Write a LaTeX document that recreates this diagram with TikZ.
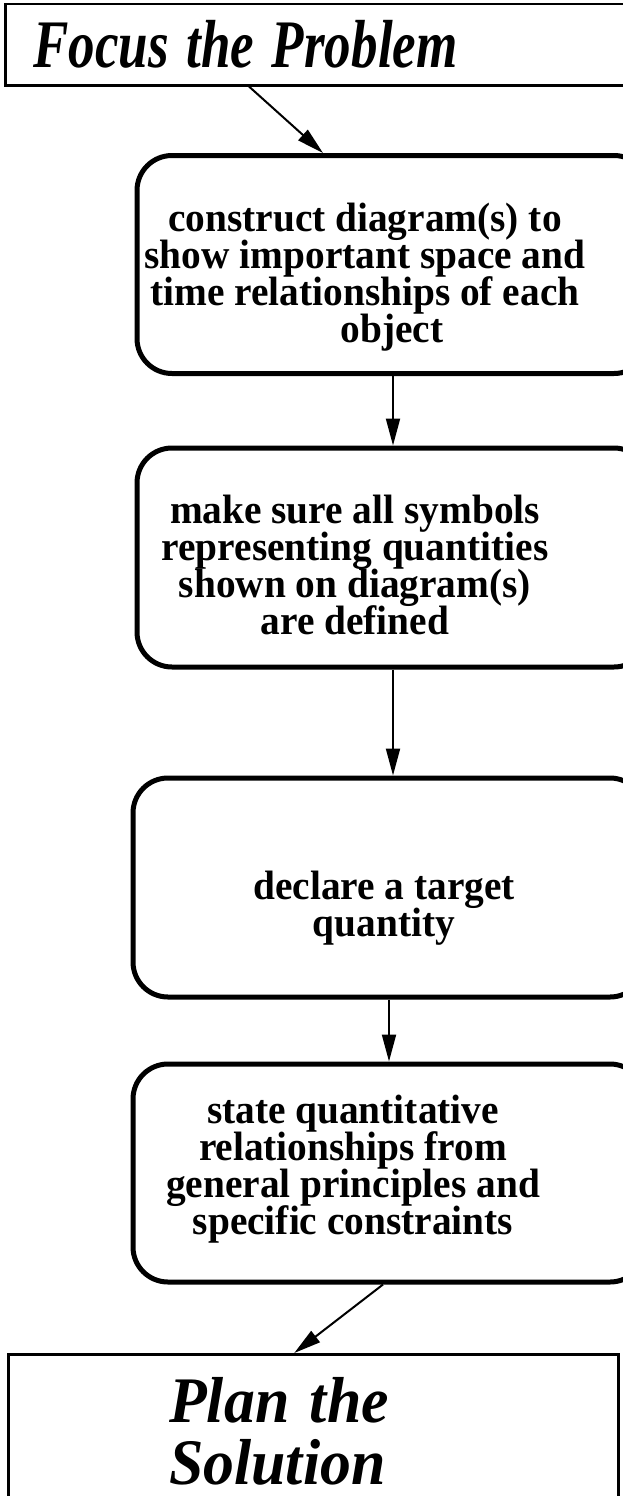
\documentclass[tikz,border=0pt]{standalone}
\usepackage{fontspec}
\setmainfont{Liberation Serif}
\newfontfamily\stepfont[FakeStretch=0.96]{Liberation Serif}
\newcommand\tightlines{\setlength{\lineskiplimit}{-20pt}}
\usepackage{graphicx}
\usetikzlibrary{positioning,arrows.meta}

\begin{document}
\begin{tikzpicture}[x=1pt,y=1pt,
    stepbox/.style={draw, line width=5pt, rounded corners=35pt, minimum width=512pt, minimum height=218pt},
    steptext/.style={align=center, font=\stepfont\fontsize{41}{37}\selectfont\bfseries\tightlines},
    headbox/.style={draw, line width=2.5pt, anchor=north west, align=left, font=\fontsize{68}{62}\selectfont\bfseries\itshape},
    flow/.style={line width=2pt, -{Triangle[length=27pt,width=14pt]}},
  ]
  \useasboundingbox (0,0) rectangle (623,-1496);
  \clip (0,0) rectangle (623,-1496);

  \node[headbox, text width=600pt, inner xsep=28pt, minimum height=81pt] (focus) at (4,-3) {\scalebox{0.78}[1]{Focus the Problem}};

  \node[stepbox] (b1) at (393,-264.5) {};
  \node[stepbox, minimum height=219pt] (b2) at (393,-557.5) {};
  \node[stepbox, minimum height=219pt] (b3) at (389,-887.5) {};
  \node[stepbox] (b4) at (389,-1173) {};

  \node[steptext] (t1) at ([xshift=-28pt,yshift=-13pt]b1.center) {construct diagram(s) to\\show important space and\\time relationships of each\\\hspace*{54pt}object};
  \node[steptext] (t2) at ([xshift=-38pt,yshift=-7pt]b2.center) {make sure all symbols\\representing quantities\\shown on diagram(s)\\are defined};
  \node[steptext] (t3) at ([xshift=-5pt,yshift=-21pt]b3.center) {declare a target\\quantity};
  \node[steptext] (t4) at ([xshift=-36pt,yshift=4pt]b4.center) {state quantitative\\relationships from\\general principles and\\specific constraints};

  \node[headbox, text width=288pt, inner xsep=161pt, inner ysep=23pt, font=\fontsize{65}{62}\selectfont\bfseries\itshape] (plan) at (7,-1353) {\scalebox{0.95}[1]{Plan the}\\\scalebox{0.95}[1]{Solution}};

  \draw[flow] ([xshift=245pt]focus.south west) -- ([xshift=-70pt]b1.north);
  \draw[flow] (b1.south) -- (b2.north);
  \draw[flow] (b2.south) -- (b2.south |- b3.north);
  \draw[flow] (b3.south) -- (b4.north);
  \draw[flow] ([xshift=-6pt]b4.south) -- ([xshift=-19pt]plan.north);
\end{tikzpicture}
\end{document}
